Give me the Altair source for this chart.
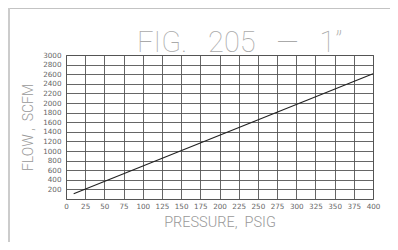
import altair as alt
import pandas as pd

pressure = [10, 400]
flow = [110, 2610]
x_ticks = list(range(0, 401, 25))
y_ticks = list(range(200, 3001, 200))
NB = "\u00a0"
title_text = f"FIG.{NB*3}205{NB*3}—{NB*3}1\u201d"
x_title = f"PRESSURE,{NB*2}PSIG"
y_title = f"FLOW{NB},{NB*2}SCFM"

df = pd.DataFrame({"p": pressure, "f": flow})

W, H = 307, 144

xs = alt.Scale(domain=[0, 400], nice=False, zero=False)
ys = alt.Scale(domain=[0, 3000], nice=False, zero=False)

base = alt.Chart(df)

common = dict(grid=True, gridColor="#555", gridWidth=0.9, gridOpacity=1, domain=False,
              ticks=False, format="d", labelOverlap=False, labelFlush=False,
              labelFontSize=7.2, labelColor="#666", labelFont="DejaVu Sans",
              titleFont="Roboto", titleFontWeight=300, titleColor="#999")

line = base.mark_line(color="#222", strokeWidth=1.1).encode(
    x=alt.X("p:Q", scale=xs,
            axis=alt.Axis(values=x_ticks, title=x_title, labelPadding=3,
                          titleFontSize=14.5, titlePadding=6, **common)),
    y=alt.Y("f:Q", scale=ys,
            axis=alt.Axis(values=y_ticks, title=y_title, labelPadding=5,
                          titleFontSize=14, titlePadding=7, **common)),
)

title = alt.Chart(pd.DataFrame({"t": [title_text]})).mark_text(
    font="Roboto", fontWeight=100, fontSize=29, color="#aaa", align="left",
    baseline="alphabetic"
).encode(x=alt.value(71), y=alt.value(-3), text="t:N")

frame_top = alt.Chart(pd.DataFrame({"a": [0]})).mark_rule(color="#888", strokeWidth=1.2).encode(
    x=alt.value(-58), x2=alt.value(W + 24), y=alt.value(-47))
frame_left = alt.Chart(pd.DataFrame({"a": [0]})).mark_rule(color="#ccc", strokeWidth=2).encode(
    x=alt.value(-57), y=alt.value(-47), y2=alt.value(H + 47))

chart = alt.layer(frame_top, frame_left, line, title).properties(
    width=W, height=H,
    padding={"left": 58, "top": 47, "right": 17, "bottom": 43},
    autosize=alt.AutoSizeParams(type="none"),
    background="white",
).configure_view(stroke="#555", strokeWidth=1)

chart.save("out.html", embed_options={"renderer": "svg", "actions": False})
